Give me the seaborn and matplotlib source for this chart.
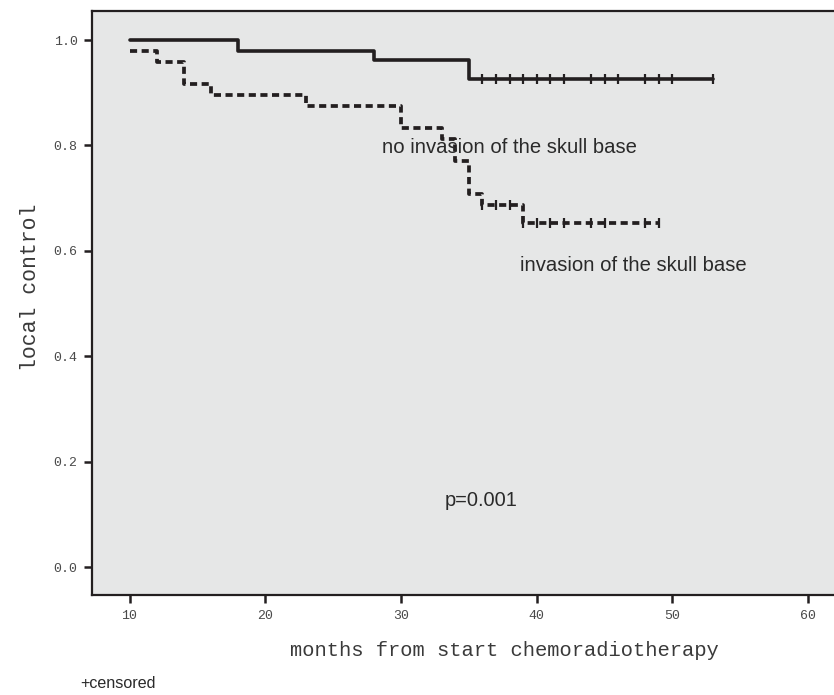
import matplotlib
matplotlib.use("Agg")
import matplotlib.pyplot as plt
import seaborn as sns
import pandas as pd

# --- data ---
no_inv_time = [10, 18, 28, 35, 53]
no_inv_surv = [1.0, 0.98, 0.962, 0.926, 0.926]
no_inv_cens = [36, 37, 38, 39, 40, 41, 42, 44, 45, 46, 48, 49, 50, 53]

inv_time = [10, 12, 14, 16, 23, 30, 33, 34, 35, 36, 39, 49]
inv_surv = [0.979, 0.958, 0.917, 0.896, 0.875, 0.833, 0.8125, 0.771, 0.708, 0.687, 0.653, 0.653]
inv_cens = [36, 37, 38, 39, 40, 41, 42, 44, 45, 48, 49]

x_ticks = [10, 20, 30, 40, 50, 60]
y_ticks = [0.0, 0.2, 0.4, 0.6, 0.8, 1.0]
y_ticklabels = ["0.0", "0.2", "0.4", "0.6", "0.8", "1.0"]

INK = "#231f20"
BG = "#e6e7e7"
GREY = "#3a3a3a"

sns.set_theme(style="ticks")
plt.rcParams["font.family"] = ["Liberation Sans", "DejaVu Sans"]

fig = plt.figure(figsize=(8.34, 6.95), dpi=100)
ax = fig.add_axes([91.5 / 834, 1 - 594.5 / 695, 1 - 91.5 / 834, (594.5 - 10.5) / 695])
ax.set_facecolor(BG)

df_a = pd.DataFrame({"t": no_inv_time, "s": no_inv_surv})
df_b = pd.DataFrame({"t": inv_time, "s": inv_surv})

sns.lineplot(data=df_a, x="t", y="s", ax=ax, drawstyle="steps-post", color=INK,
             linewidth=2.6, estimator=None, sort=True)
sns.lineplot(data=df_b, x="t", y="s", ax=ax, drawstyle="steps-post", color=INK,
             linewidth=2.7, estimator=None, sort=True, dashes=False)
ax.lines[-1].set_dashes([1.9, 1.2])


def level_at(times, survs, t):
    val = survs[0]
    for ti, si in zip(times, survs):
        if ti <= t:
            val = si
    return val


cens_a = pd.DataFrame({"t": no_inv_cens,
                       "s": [level_at(no_inv_time, no_inv_surv, c) for c in no_inv_cens]})
cens_b = pd.DataFrame({"t": inv_cens,
                       "s": [level_at(inv_time, inv_surv, c) for c in inv_cens]})
for d in (cens_a, cens_b):
    ax.plot(d["t"], d["s"], linestyle="none", marker="|", markersize=6.5,
            markeredgewidth=1.6, color=INK)

ax.set_xlim(7.2, 61.9)
ax.set_ylim(-0.052, 1.056)
ax.set_xticks(x_ticks)
ax.set_yticks(y_ticks)
ax.set_yticklabels(y_ticklabels)

for lab in ax.get_xticklabels() + ax.get_yticklabels():
    lab.set_family(["Liberation Mono", "DejaVu Sans Mono"])
    lab.set_fontsize(9.5)
    lab.set_color("#4a4a4a")
ax.tick_params(axis="both", direction="out", length=6, width=1.8, color=INK)
ax.tick_params(axis="y", pad=4)
ax.tick_params(axis="x", pad=5)

for side in ("left", "bottom", "top"):
    ax.spines[side].set_color(INK)
    ax.spines[side].set_linewidth(1.6)
ax.spines["right"].set_visible(False)

ax.set_xlabel("months from start chemoradiotherapy", family=["Liberation Mono", "DejaVu Sans Mono"],
              fontsize=14.8, color=GREY)
ax.set_ylabel("local control", family=["Liberation Mono", "DejaVu Sans Mono"],
              fontsize=15.5, color=GREY)
ax.xaxis.label.set_va("center")
ax.yaxis.label.set_va("center")
ax.xaxis.set_label_coords((504 - 91.5) / 742.5, (594.5 - 651) / 584)
ax.yaxis.set_label_coords((31 - 91.5) / 742.5, (594.5 - 287) / 584)

ax.text(28.6, 0.797, "no invasion of the skull base", fontsize=14.6, color="#2a2a2a",
        ha="left", va="center")
ax.text(38.8, 0.573, "invasion of the skull base", fontsize=14.6, color="#2a2a2a",
        ha="left", va="center")
ax.text(33.2, 0.127, "p=0.001", fontsize=14.4, color="#2a2a2a", ha="left", va="center")

fig.text(80 / 834, 1 - 683 / 695, "+censored", fontsize=11.6, color="#2a2a2a",
         ha="left", va="center")

fig.savefig("out.png", dpi=100, facecolor="white")
